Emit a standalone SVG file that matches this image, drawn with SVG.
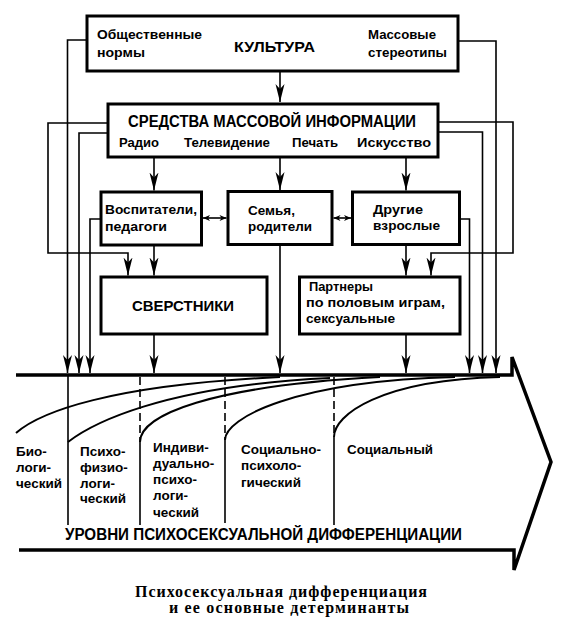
<svg xmlns="http://www.w3.org/2000/svg" width="565" height="630" viewBox="0 0 565 630">
<style>
.bx{fill:none;stroke:#000;stroke-width:3}
.c{fill:none;stroke:#000;stroke-width:1.6}
.cv{fill:none;stroke:#000;stroke-width:2}
.d{fill:none;stroke:#000;stroke-width:1.6;stroke-dasharray:8 4}
.t{font-family:"Liberation Sans",Arial,sans-serif;font-weight:bold;fill:#000;font-size:13px}
.cap{font-family:"Liberation Serif","Times New Roman",serif;font-weight:bold;fill:#000;font-size:16px}
</style>
<defs>
<marker id="ah" viewBox="-18 -5 20 10" refX="0" refY="0" markerWidth="20" markerHeight="10" markerUnits="userSpaceOnUse" orient="auto"><path d="M0,0 L-18,-4.5 L-13,0 L-18,4.5 Z" fill="#000"/></marker>
<marker id="sm" viewBox="-8 -4 9 8" refX="0" refY="0" markerWidth="9" markerHeight="8" markerUnits="userSpaceOnUse" orient="auto-start-reverse"><path d="M0,0 L-7,-3 L-5,0 L-7,3 Z" fill="#000"/></marker>
</defs>
<rect width="565" height="630" fill="#fff"/>

<g id="culture">
<rect class="bx" x="87" y="16" width="371" height="55"/>
<text class="t" x="97" y="39" textLength="105" lengthAdjust="spacingAndGlyphs">Общественные</text>
<text class="t" x="97" y="56.5" textLength="48" lengthAdjust="spacingAndGlyphs">нормы</text>
<text class="t" x="234" y="52" style="font-size:15px" textLength="81" lengthAdjust="spacingAndGlyphs">КУЛЬТУРА</text>
<text class="t" x="368" y="39" textLength="68" lengthAdjust="spacingAndGlyphs">Массовые</text>
<text class="t" x="368" y="56.5" textLength="79" lengthAdjust="spacingAndGlyphs">стереотипы</text>
</g>

<g id="media">
<rect class="bx" x="108" y="104" width="330" height="53"/>
<text class="t" x="128" y="126.5" style="font-size:16px" textLength="288" lengthAdjust="spacingAndGlyphs">СРЕДСТВА МАССОВОЙ ИНФОРМАЦИИ</text>
<text class="t" x="119" y="147" textLength="40" lengthAdjust="spacingAndGlyphs">Радио</text>
<text class="t" x="184" y="147" textLength="86" lengthAdjust="spacingAndGlyphs">Телевидение</text>
<text class="t" x="292" y="147" textLength="46" lengthAdjust="spacingAndGlyphs">Печать</text>
<text class="t" x="357" y="147" textLength="74" lengthAdjust="spacingAndGlyphs">Искусство</text>
</g>

<g id="educators">
<rect class="bx" x="101" y="192" width="100.5" height="53"/>
<text class="t" x="105" y="214" textLength="92" lengthAdjust="spacingAndGlyphs">Воспитатели,</text>
<text class="t" x="105" y="231" textLength="62" lengthAdjust="spacingAndGlyphs">педагоги</text>
</g>

<g id="family">
<rect class="bx" x="228" y="191.5" width="104" height="53"/>
<text class="t" x="248" y="215" textLength="47" lengthAdjust="spacingAndGlyphs">Семья,</text>
<text class="t" x="248" y="230.5" textLength="64" lengthAdjust="spacingAndGlyphs">родители</text>
</g>

<g id="adults">
<rect class="bx" x="352.5" y="192" width="107" height="52.5"/>
<text class="t" x="373" y="214" textLength="50" lengthAdjust="spacingAndGlyphs">Другие</text>
<text class="t" x="373" y="229.5" textLength="67" lengthAdjust="spacingAndGlyphs">взрослые</text>
</g>

<g id="peers">
<rect class="bx" x="101" y="277" width="166" height="57"/>
<text class="t" x="132" y="311" style="font-size:14.5px" textLength="102" lengthAdjust="spacingAndGlyphs">СВЕРСТНИКИ</text>
</g>

<g id="partners">
<rect class="bx" x="299.5" y="277" width="160.5" height="57"/>
<text class="t" x="309" y="291" textLength="64" lengthAdjust="spacingAndGlyphs">Партнеры</text>
<text class="t" x="306" y="307" textLength="139" lengthAdjust="spacingAndGlyphs">по половым играм,</text>
<text class="t" x="306" y="322.5" textLength="89" lengthAdjust="spacingAndGlyphs">сексуальные</text>
</g>

<g id="connectors">
<path class="c" d="M87,40 H67.5 V373" marker-end="url(#ah)"/>
<path class="c" d="M458,41 H496 V373" marker-end="url(#ah)"/>
<path class="c" d="M280,71 V102" marker-end="url(#ah)"/>
<path class="c" d="M108,123 H48 V253 H128 V275.5" marker-end="url(#ah)"/>
<path class="c" d="M108,133 H79 V373" marker-end="url(#ah)"/>
<path class="c" d="M438,122 H513 V253 H431 V275.5" marker-end="url(#ah)"/>
<path class="c" d="M438,132 H482.5 V373" marker-end="url(#ah)"/>
<path class="c" d="M154,157 V190.5" marker-end="url(#ah)"/>
<path class="c" d="M280,157 V190" marker-end="url(#ah)"/>
<path class="c" d="M406,157 V190.5" marker-end="url(#ah)"/>
<path class="c" d="M101,219 H90 V373" marker-end="url(#ah)"/>
<path class="c" d="M459.5,219 H469.5 V373" marker-end="url(#ah)"/>
<path class="c" d="M154,245 V275.5" marker-end="url(#ah)"/>
<path class="c" d="M406,244.5 V275.5" marker-end="url(#ah)"/>
<path class="c" d="M154,334 V373" marker-end="url(#ah)"/>
<path class="c" d="M280,244.5 V373" marker-end="url(#ah)"/>
<path class="c" d="M406,334 V373" marker-end="url(#ah)"/>
<path class="c" d="M203,218 H226.5" marker-start="url(#sm)" marker-end="url(#sm)"/>
<path class="c" d="M333.5,218 H351" marker-start="url(#sm)" marker-end="url(#sm)"/>
</g>

<g id="levels">
<path d="M16,375 H512 V357 L551,462 L514,570 V550 H19" fill="none" stroke="#000" stroke-width="3.5" stroke-linejoin="miter"/>
<path class="c" d="M68,375 V525"/>
<path class="d" d="M140,377 V442"/>
<path class="c" d="M140,442 V525"/>
<path class="d" d="M225,377 V440"/>
<path class="c" d="M225,440 V523"/>
<path class="d" d="M334,377 V437"/>
<path class="c" d="M334,437 V525"/>
<path class="cv" d="M16,433 C40,412 110,385 280,377"/>
<path class="cv" d="M68,442 C90,425 160,386 330,378"/>
<path class="cv" d="M140,442 C140,415 210,386 380,377"/>
<path class="cv" d="M225,440 C225,418 295,381 455,377"/>
<path class="cv" d="M334,437 C334,415 380,380 500,377"/>
<text class="t" style="font-size:13.5px"><tspan x="16" y="456">Био-</tspan><tspan x="16" y="472">логи-</tspan><tspan x="16" y="488">ческий</tspan></text>
<text class="t" style="font-size:13.5px"><tspan x="80" y="456">Психо-</tspan><tspan x="80" y="472">физио-</tspan><tspan x="80" y="487.5">логи-</tspan><tspan x="80" y="502.5">ческий</tspan></text>
<text class="t" style="font-size:13.5px"><tspan x="153" y="451.5">Индиви-</tspan><tspan x="153" y="467.5">дуально-</tspan><tspan x="153" y="483.5">психо-</tspan><tspan x="153" y="500">логи-</tspan><tspan x="153" y="516.5">ческий</tspan></text>
<text class="t" style="font-size:13.5px"><tspan x="241" y="454">Социально-</tspan><tspan x="241" y="470">психоло-</tspan><tspan x="241" y="486.5">гический</tspan></text>
<text class="t" x="347" y="453.5" style="font-size:13.5px" textLength="86" lengthAdjust="spacingAndGlyphs">Социальный</text>
<text class="t" x="65" y="540" style="font-size:16px" textLength="397" lengthAdjust="spacingAndGlyphs">УРОВНИ ПСИХОСЕКСУАЛЬНОЙ ДИФФЕРЕНЦИАЦИИ</text>
</g>

<g id="caption">
<text class="cap" x="135" y="597" textLength="292" lengthAdjust="spacing">Психосексуальная дифференциация</text>
<text class="cap" x="169" y="613" textLength="240" lengthAdjust="spacing">и ее основные детерминанты</text>
</g>
</svg>
